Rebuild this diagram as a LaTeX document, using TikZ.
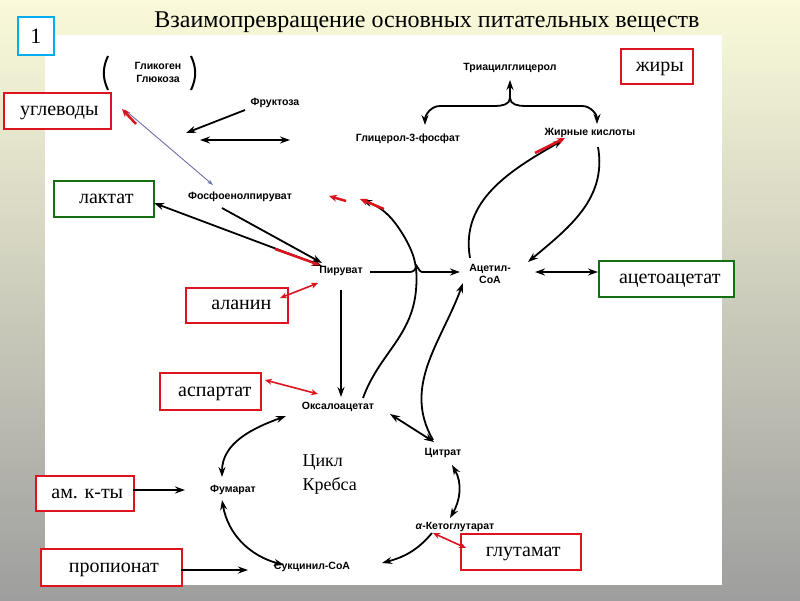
\documentclass[tikz,border=0pt]{standalone}
\usepackage{fontspec}
\setmainfont{Liberation Serif}
\newfontfamily\sans{Liberation Sans}
\usetikzlibrary{arrows.meta}
\definecolor{bgtop}{RGB}{250,250,218}
\definecolor{bgbot}{RGB}{158,158,158}
\definecolor{rbox}{RGB}{220,20,30}
\definecolor{gbox}{RGB}{20,110,20}
\definecolor{lav}{RGB}{110,110,170}
\begin{document}
\begin{tikzpicture}[x=1pt,y=-1pt,
  m/.style={font=\sans\bfseries\fontsize{10.5}{12}\selectfont,inner sep=1pt},
  lab/.style={draw=#1,line width=1.6pt,fill=white,font=\fontsize{20}{22}\selectfont,inner sep=0pt,anchor=north west,text depth=0pt},
  ar/.style={-{Stealth[length=10pt,width=7pt]},line width=1.8pt},
  dar/.style={{Stealth[length=10pt,width=7pt]}-{Stealth[length=10pt,width=7pt]},line width=1.8pt},
  rar/.style={-{Stealth[length=8pt,width=7pt]},line width=2.5pt,rbox},
  rdar/.style={{Stealth[length=7pt,width=6pt]}-{Stealth[length=7pt,width=6pt]},line width=1.6pt,rbox}]
\useasboundingbox (0,0) rectangle (800,600);
\shade[top color=bgtop,bottom color=bgbot] (0,0) rectangle (800,600);
\fill[white] (45,35) rectangle (722,585);
\node[font=\fontsize{24}{26}\selectfont] (title) at (427,22) {Взаимопревращение основных питательных веществ};
\node[draw=cyan,line width=2pt,fill=white,minimum width=36pt,minimum height=38pt,font=\fontsize{22}{24}\selectfont] (num) at (36,36) {1};
% metabolites
\node[m] (glg) at (158,66) {Гликоген};
\node[m] (glu) at (158,79) {Глюкоза};
\draw[line width=2pt] (108,56) to[out=-115,in=115] (108,90);
\draw[line width=2pt] (191,56) to[out=-65,in=65] (191,90);
\node[m] (fru) at (275,103) {Фруктоза};
\node[m] (tag) at (510,68) {Триацилглицерол};
\node[m] (g3p) at (408,139) {Глицерол-3-фосфат};
\node[m] (fa) at (590,133) {Жирные кислоты};
\node[m] (pep) at (240,197) {Фосфоенолпируват};
\node[m] (pyr) at (341,271) {Пируват};
\node[m,align=center] (aco) at (490,274) {Ацетил-\\CoA};
\node[m] (oaa) at (338,407) {Оксалоацетат};
\node[m] (cit) at (443,453) {Цитрат};
\node[m] (akg) at (455,527) {\itshape α\upshape -Кетоглутарат};
\node[m] (suc) at (312,567) {Сукцинил-CoA};
\node[m] (fum) at (233,490) {Фумарат};
\node[font=\fontsize{18}{24}\selectfont,align=left,anchor=west] (krebs) at (299,475) {Цикл\\Кребса};
% labels
\node[lab=rbox,minimum width=107pt,minimum height=36pt] (ugl) at (3,92) {\hspace{4pt}углеводы};
\node[lab=rbox,minimum width=72pt,minimum height=35pt] (zhir) at (620,48) {\hspace{6pt}жиры};
\node[lab=gbox,minimum width=100pt,minimum height=36pt] (lac) at (53,180) {\hspace{5pt}лактат};
\node[lab=gbox,minimum width=135pt,minimum height=36pt] (acac) at (598,260) {\hspace{7pt}ацетоацетат};
\node[lab=rbox,minimum width=102pt,minimum height=35pt] (ala) at (185,287) {\hspace{9pt}аланин};
\node[lab=rbox,minimum width=101pt,minimum height=37pt] (asp) at (159,372) {\hspace{9pt}аспартат};
\node[lab=rbox,minimum width=98pt,minimum height=35pt] (amk) at (35,475) {\hspace{5pt}ам. к-ты};
\node[lab=rbox,minimum width=141pt,minimum height=37pt] (prop) at (40,548) {\hspace{5pt}пропионат};
\node[lab=rbox,minimum width=120pt,minimum height=36pt] (glut) at (460,533) {\hspace{5pt}глутамат};
% coordinates
\coordinate (c1) at (186,133);
\coordinate (c2) at (200,140);
\coordinate (c3) at (290,140);
\coordinate (bt) at (510,80);
\coordinate (f0) at (245,110);
\coordinate (lacE) at (154,203);
\coordinate (alaE) at (280,298);
\coordinate (acw) at (598,272);
\coordinate (prE) at (181,570);
\coordinate (amE) at (133,490);
% connectors
\draw[ar] (f0) -- (c1);
\draw[dar] (c2) -- (c3);
\draw[ar] (510,98) -- (bt);
\draw[ar] (510,98) to[out=-90,in=0] (495,106) -- (440,106) to[out=180,in=90] (425,125);
\draw[ar] (510,98) to[out=-90,in=180] (525,106) -- (582,106) to[out=0,in=90] (597,124);
\draw[-{Stealth[length=6pt,width=4pt]},lav,line width=0.9pt] (125,110) -- (213,185);
\draw[rar] (136,124) -- (122,109);
\draw[dar] (lacE) -- (322,266);
\draw[rar] (275,249) -- (320,265);
\draw[ar] (222,208) -- (322,263);
\draw[rdar] (alaE) -- (318,283);
\draw[ar] (370,272) -- (410,272) to[out=0,in=-90] (416,266) to[out=90,in=180] (422,272) -- (460,272);
\draw[ar] (363,398) to[out=70,in=-95] (416,290) to[out=85,in=-60] (405,238) to[out=120,in=-20] (362,200);
\draw[rar] (384,209) -- (360,199);
\draw[rar] (346,201) -- (329,196);
\draw[dar] (535,272) -- (acw);
\draw[ar] (470,258) to[out=100,in=-150] (563,140);
\draw[rar] (535,153) -- (565,138);
\draw[ar] (598,147) to[out=-80,in=40] (528,262);
\draw[ar] (341,290) -- (341,397);
\draw[rdar] (265,380) -- (318,394);
\draw[ar] (433,440) to[out=120,in=-110] (463,283);
\draw[dar] (390,414) -- (434,442);
\draw[dar] (452,465) to[out=-60,in=60] (450,518);
\draw[ar] (432,533) to[out=-130,in=15] (382,563);
\draw[rdar] (433,533) -- (466,548);
\draw[ar] (prE) -- (248,570);
\draw[ar] (amE) -- (185,490);
\draw[dar] (286,416) to[out=-160,in=90] (222,477);
\draw[dar] (222,500) to[out=-80,in=165] (284,565);
\end{tikzpicture}
\end{document}
